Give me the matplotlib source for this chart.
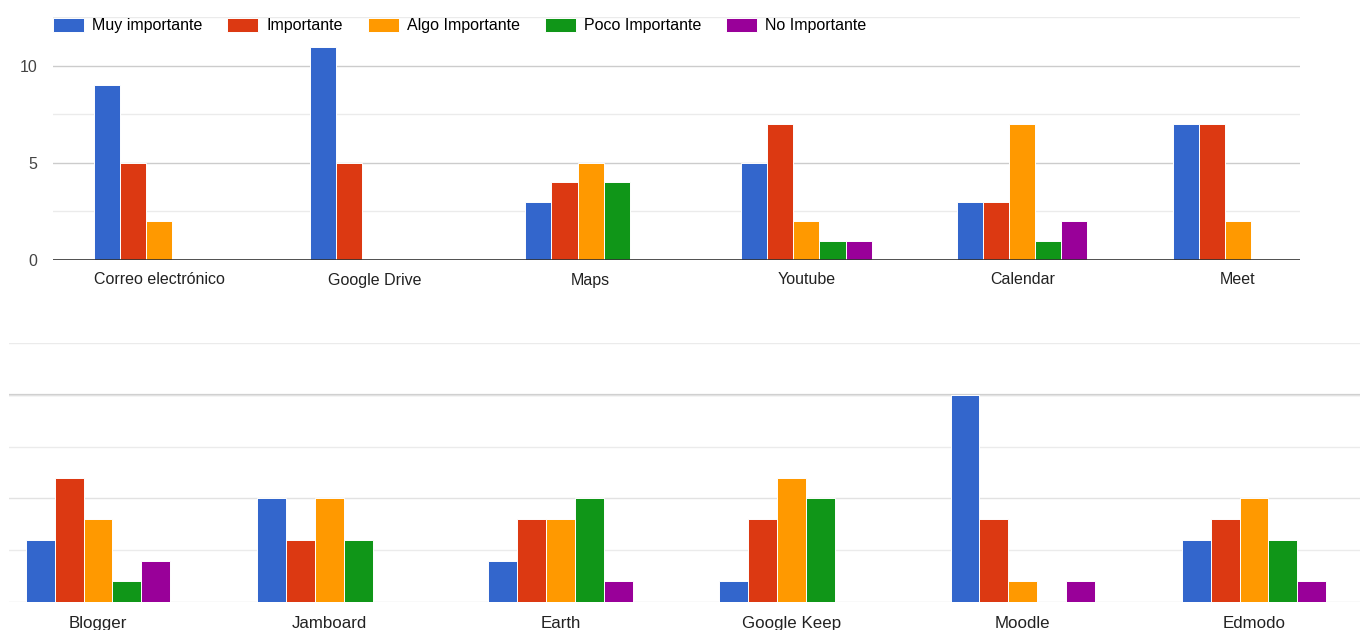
import numpy as np
import matplotlib.pyplot as plt
from matplotlib.ticker import FixedLocator

plt.rcParams['font.family'] = ['Liberation Sans', 'DejaVu Sans']

series = ["Muy importante", "Importante", "Algo Importante", "Poco Importante", "No Importante"]
colors = ["#3366cc", "#dc3912", "#ff9900", "#109618", "#990099"]

# panel superior
cats_top = ["Correo electrónico", "Google Drive", "Maps", "Youtube", "Calendar", "Meet"]
muy_top = [9, 11, 3, 5, 3, 7]
imp_top = [5, 5, 4, 7, 3, 7]
algo_top = [2, 0, 5, 2, 7, 2]
poco_top = [0, 0, 4, 1, 1, 0]
no_top = [0, 0, 0, 1, 2, 0]

# panel inferior
cats_bot = ["Blogger", "Jamboard", "Earth", "Google Keep", "Moodle", "Edmodo"]
muy_bot = [3, 5, 2, 1, 10, 3]
imp_bot = [6, 3, 4, 4, 4, 4]
algo_bot = [4, 5, 4, 6, 1, 5]
poco_bot = [1, 3, 5, 5, 0, 3]
no_bot = [2, 0, 1, 0, 1, 1]

W, H = 1360, 630
fig = plt.figure(figsize=(W / 100, H / 100), dpi=100)


def px_axes(left, top, right, bottom):
    return fig.add_axes([left / W, 1 - bottom / H, (right - left) / W, (bottom - top) / H])


def draw(ax, cats, vals, bw, fs, pad):
    x = np.arange(len(cats))
    for k, (v, c, name) in enumerate(zip(vals, colors, series)):
        ax.bar(x + (k - 2) * bw, v, bw, color=c, edgecolor="white", linewidth=0.7,
               label=name, zorder=3)
    ax.set_ylim(0, 12.5)
    ax.set_xticks(x)
    ax.set_xticklabels(cats, fontsize=fs, color="#222222")
    ax.yaxis.set_major_locator(FixedLocator([0, 5, 10]))
    ax.yaxis.set_minor_locator(FixedLocator([2.5, 7.5, 12.5]))
    ax.grid(True, which="major", axis="y", color="#cccccc", lw=1.0, zorder=0)
    ax.grid(True, which="minor", axis="y", color="#ebebeb", lw=1.0, zorder=0)
    ax.tick_params(axis="both", which="both", length=0)
    ax.tick_params(axis="x", pad=pad)
    for s in ax.spines.values():
        s.set_visible(False)
    return x


# arriba
ax1 = px_axes(53, 17.5, 1300, 260)
draw(ax1, cats_top, [muy_top, imp_top, algo_top, poco_top, no_top], 0.121, 11.5, 9)
ax1.set_xlim((53 - 159) / 215.8, (1300 - 159) / 215.8)
ax1.axhline(0, color="#333333", lw=1.2, zorder=4)
ax1.tick_params(axis="y", labelsize=11.5, labelcolor="#444444", pad=11)
ax1.legend(loc="center left", bbox_to_anchor=(-0.0013, 1 - 8 / 242.5), ncol=5,
           frameon=False, fontsize=11.5,
           handlelength=1.95, handleheight=0.95, handletextpad=0.5,
           columnspacing=1.55, borderaxespad=0, borderpad=0.1)

# abajo
ax2 = px_axes(9, 343, 1360, 602)
draw(ax2, cats_bot, [muy_bot, imp_bot, algo_bot, poco_bot, no_bot], 0.125, 12.2, 10)
ax2.set_xlim((9 - 98) / 231.2, (1360 - 98) / 231.2)
ax2.grid(True, which="major", axis="y", color="#e2e2e2", lw=1.0, zorder=0)
ax2.axhline(10, color="#cccccc", lw=1.6, zorder=1)
ax2.set_yticklabels([])

fig.savefig("out.png", dpi=100, facecolor="white")
